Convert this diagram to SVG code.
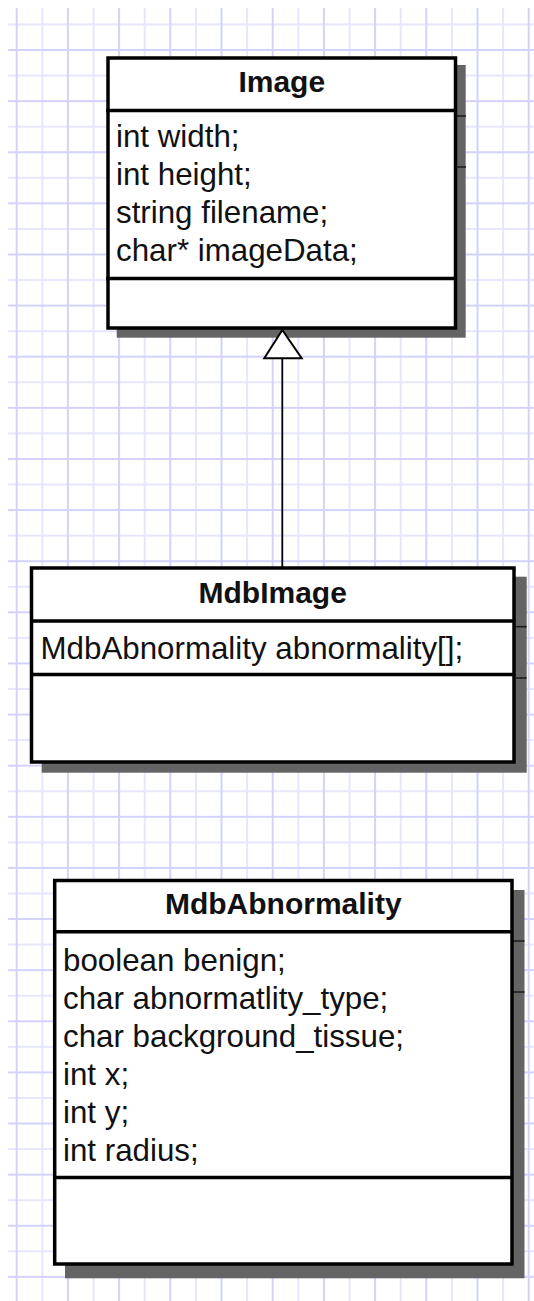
<svg xmlns="http://www.w3.org/2000/svg" width="534" height="1301" viewBox="0 0 534 1301">
<defs>
<pattern id="grid" patternUnits="userSpaceOnUse" x="3.9" y="37.22" width="51.2" height="51.12">
<line x1="38.4" y1="0" x2="38.4" y2="51.12" stroke="#e6e6fc" stroke-width="2"/>
<line x1="0" y1="38.34" x2="51.2" y2="38.34" stroke="#e6e6fc" stroke-width="2"/>
<line x1="12.8" y1="0" x2="12.8" y2="51.12" stroke="#d2d2fd" stroke-width="2"/>
<line x1="0" y1="12.78" x2="51.2" y2="12.78" stroke="#d2d2fd" stroke-width="2"/>
</pattern>
</defs>
<style>
.box{fill:#fff;stroke:#000;stroke-width:3.5}
.div{stroke:#000;stroke-width:3.5}
.shadow{fill:#646464}
.tick{stroke:#1a1a1a;stroke-width:1.5}
.title{font-family:"Liberation Sans",Arial,sans-serif;font-size:30px;font-weight:bold;text-anchor:middle;fill:#111}
.attr{font-family:"Liberation Sans",Arial,sans-serif;font-size:31.3px;fill:#111}
.conn{stroke:#000;stroke-width:1.8;fill:none}
.head{fill:#fff;stroke:#000;stroke-width:2}
</style>
<rect x="0" y="0" width="534" height="1301" fill="#fff"/>
<rect x="8" y="8" width="526" height="1293" fill="url(#grid)"/>

<g id="node-image">
<rect class="shadow" x="116.7" y="65" width="349" height="272.7"/>
<line class="tick" x1="457" y1="116" x2="466" y2="116"/>
<line class="tick" x1="457" y1="167" x2="466" y2="167"/>
<rect class="box" x="108" y="58" width="347.5" height="270"/>
<line class="div" x1="106" y1="110.5" x2="455.5" y2="110.5"/>
<line class="div" x1="106" y1="278.5" x2="455.5" y2="278.5"/>
<text class="title" x="281.75" y="92.3">Image</text>
<text class="attr" x="116" y="147">int width;</text>
<text class="attr" x="116" y="185">int height;</text>
<text class="attr" x="116" y="223">string filename;</text>
<text class="attr" x="116" y="261">char* imageData;</text>
</g>

<g id="node-mdbimage">
<rect class="shadow" x="41.7" y="576.7" width="485" height="196"/>
<line class="tick" x1="516" y1="626.7" x2="526.7" y2="626.7"/>
<line class="tick" x1="516" y1="678" x2="526.7" y2="678"/>
<rect class="box" x="31.5" y="568" width="482.5" height="194"/>
<line class="div" x1="31.5" y1="621" x2="514" y2="621"/>
<line class="div" x1="31.5" y1="674.5" x2="514" y2="674.5"/>
<text class="title" x="272.7" y="603">MdbImage</text>
<text class="attr" x="40.5" y="659">MdbAbnormality abnormality[];</text>
</g>

<g id="node-mdbabnormality">
<rect class="shadow" x="65" y="890" width="459.5" height="388.3"/>
<line class="tick" x1="513" y1="941" x2="524.5" y2="941"/>
<line class="tick" x1="513" y1="992" x2="524.5" y2="992"/>
<rect class="box" x="54.7" y="880.5" width="457.3" height="383.5"/>
<line class="div" x1="54.7" y1="931.7" x2="512" y2="931.7"/>
<line class="div" x1="54.7" y1="1177.5" x2="512" y2="1177.5"/>
<text class="title" x="283.3" y="913.5">MdbAbnormality</text>
<text class="attr" x="63" y="971">boolean benign;</text>
<text class="attr" x="63" y="1009">char abnormatlity_type;</text>
<text class="attr" x="63" y="1047">char background_tissue;</text>
<text class="attr" x="63" y="1085">int x;</text>
<text class="attr" x="63" y="1123">int y;</text>
<text class="attr" x="63" y="1161">int radius;</text>
</g>

<g id="connectors">
<line class="conn" x1="282.3" y1="358.3" x2="282.3" y2="567"/>
<polygon class="head" points="282.3,330 264.3,358.3 301.7,358.3"/>
</g>
</svg>
